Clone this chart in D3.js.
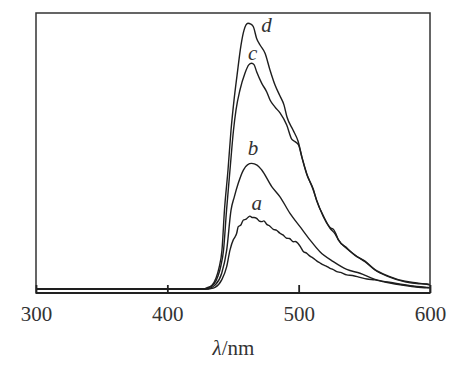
<!DOCTYPE html>
<html><head><meta charset="utf-8">
<script src="https://cdn.jsdelivr.net/npm/d3@7"></script>
<style>body{margin:0;background:#fff}svg{display:block}</style>
</head><body>
<script>
// ---- data ----
const xTicks = [300, 400, 500, 600];
const seriesNames = ["a", "b", "c", "d"];

const dLambda = [300,428,429.4,434.0,437.1,439.3,441.6,443.5,446.2,448.5,450.8,453.1,456.1,458.4,461.4,463.5,465.5,468.0,470.6,474.4,478.2,482.0,485.8,488.8,491.1,495.7,499.5,502.5,506.1,511.1,513.7,518.8,523.9,527.7,530.2,536.6,542.9,550.5,558.1,568.3,581.0,590,597.5,600];
const dValue  = [0,0,0.3,1.4,4.0,7.6,14.1,28.6,43.1,57.6,68.5,77.5,88.4,93.8,96.3,96.0,95.0,90.8,88.4,85.4,79.3,73.9,69.9,66.7,62.3,57.6,53.6,47.8,41.9,35.9,32.2,26.2,22.0,20.0,17.8,14.7,12.3,9.9,6.9,4.5,2.6,2.0,1.8,1.6];

const cLambda = [300,429,430.2,435.5,438.6,440.9,442.8,445.1,447.7,450.4,452.3,455.3,459.1,462,464.2,466,468.0,471.9,475.7,478.2,482.0,485.8,490.9,494.7,497.2,499.9,502.5,506.1,511.1,513.7,518.8,523.9,526.5,528.5,530.2,536.6,542.9,550.5,558.1,568.3,581.0,590,597.5,600];
const cValue  = [0,0,0.2,1.8,4.7,8.7,14.1,28.6,43.1,57.6,64.9,72.1,78.2,81.2,81.8,81.3,78.7,74.5,71.4,68.5,65.9,63.8,59.4,54.3,53.4,52.2,47.6,41.6,36.2,32.0,26.5,22.3,21.6,19.8,17.9,14.9,12.2,10.1,7.0,4.7,2.8,2.2,1.7,1.5];

const bLambda = [300,430,431.2,436.3,441.4,445.2,448.5,451.0,454.0,457.9,461,464.2,468.3,471.9,479.5,485.8,493.4,501.0,508.6,516.2,526.4,536.6,546.7,558.1,573.4,585,597.5,600];
const bValue  = [0,0,0.1,1.4,5.7,14.1,28.6,33.4,38.3,43.1,45.0,45.5,44.9,43.1,37.1,33.4,27.4,22.6,17.8,13.5,9.9,7.1,5.7,3.5,2.1,1.2,0.6,0.5];

const aLambda = [300,431,432.5,436.3,441.4,445.2,447.7,450.2,451.5,452.8,454.0,456.0,457.9,460,461.5,462.9,464.5,466,468.0,470,471.9,473.5,475.7,477.5,480.7,483,485.8,488,490.9,493,495.9,497.5,499.7,501.5,503.5,506,508.6,511,513.7,516,518.8,521,523.9,526,529.0,532,536.6,541,546.7,552,558.1,565,573.4,585,597.5,600];
const aValue  = [0,0,0.1,0.6,3.3,8.1,14.1,17.8,18.8,20.2,22.6,23.2,25.0,25.3,26.0,26.4,25.9,25.9,25.6,24.6,24.4,24.7,23.4,23.0,21.6,21.3,20.2,19.6,18.4,18.3,17.1,17.2,16.4,15.2,13.6,13.0,11.9,11.2,10.2,9.5,8.7,8.3,7.5,7.1,6.3,6.0,5.1,4.9,4.2,3.6,3.3,2.6,1.8,1.0,0.4,0.4];

const labelPos = { a:[468,28.6], b:[465.2,48.5], c:[464.9,83], d:[475.5,93.2] };

// ---- chart ----
const W = 456, H = 370;
const svg = d3.select("body").append("svg").attr("width", W).attr("height", H);
const mLeft = 36, mRight = 430, mTop = 13, mBottom = 293;
const serif = "'Liberation Serif', 'Times New Roman', serif";

const x = d3.scaleLinear().domain([300, 600]).range([mLeft, mRight]);
const y = d3.scaleLinear().domain([0, 100]).range([289, 13]);

const series = {
  a: d3.zip(aLambda, aValue),
  b: d3.zip(bLambda, bValue),
  c: d3.zip(cLambda, cValue),
  d: d3.zip(dLambda, dValue)
};

const line = d3.line().x(p => x(p[0])).y(p => y(p[1])).curve(d3.curveMonotoneX);

const g = svg.append("g");
seriesNames.forEach(n => {
  g.append("path").datum(series[n]).attr("d", line)
    .attr("fill", "none").attr("stroke", "#1e1e1e").attr("stroke-width", 1.4)
    .attr("stroke-linejoin", "round");
});

// frame
svg.append("rect").attr("x", mLeft).attr("y", mTop).attr("width", mRight - mLeft).attr("height", mBottom - mTop)
  .attr("fill", "none").attr("stroke", "#333").attr("stroke-width", 1.5);
svg.append("line").attr("x1", mLeft).attr("x2", mRight).attr("y1", mBottom).attr("y2", mBottom)
  .attr("stroke", "#222").attr("stroke-width", 2);

// bottom axis (ticks inward, labels below)
const xAxis = d3.axisBottom(x).tickValues(xTicks).tickSize(-8).tickPadding(13).tickFormat(d3.format("d"));
const ax = svg.append("g").attr("transform", `translate(0,${mBottom})`).call(xAxis);
ax.attr("font-family", serif).attr("font-size", 21);
ax.select(".domain").remove();
ax.selectAll(".tick line").attr("stroke", "#222").attr("stroke-width", 1.8);
ax.selectAll(".tick text").attr("font-family", serif).attr("font-size", 21).attr("fill", "#333");

// axis title
const t = svg.append("text").attr("x", 233.5).attr("y", 355).attr("text-anchor", "middle")
  .attr("font-family", serif).attr("font-size", 21).attr("fill", "#333");
t.append("tspan").attr("font-style", "italic").text("λ");
t.append("tspan").text("/nm");

// curve labels
seriesNames.forEach(n => {
  svg.append("text").attr("x", x(labelPos[n][0])).attr("y", y(labelPos[n][1]))
    .attr("text-anchor", "middle")
    .attr("font-family", serif).attr("font-style", "italic")
    .attr("font-size", 21).attr("fill", "#333").text(n);
});
</script>
</body></html>
